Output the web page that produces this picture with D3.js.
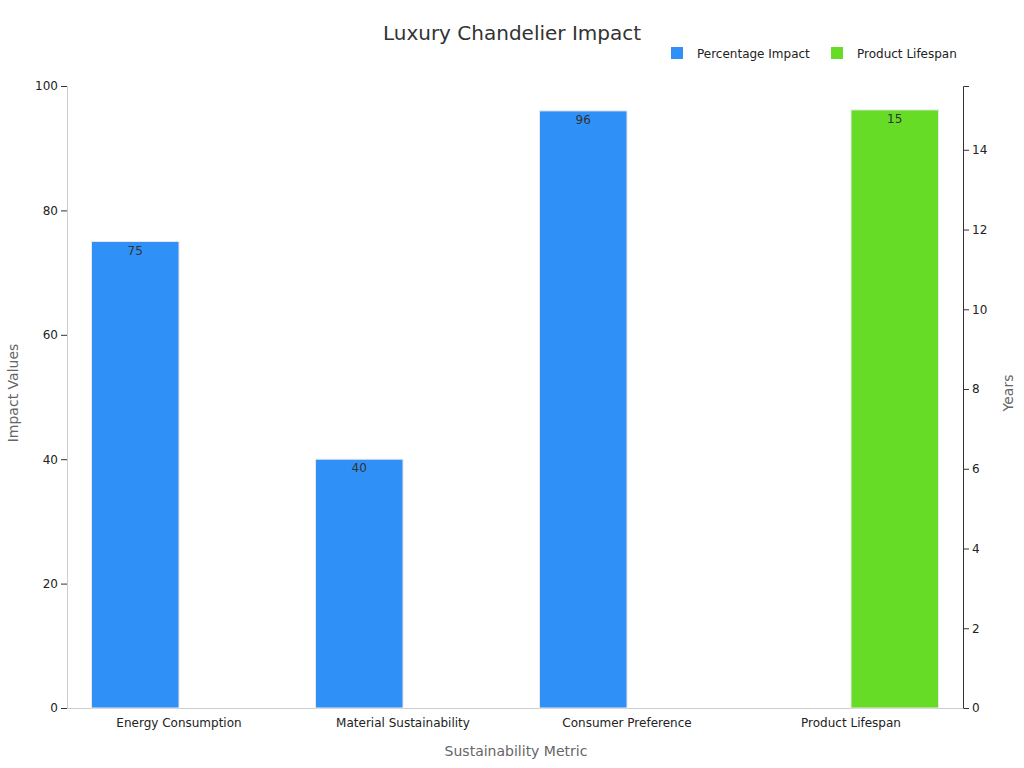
<!DOCTYPE html><html><head><meta charset="utf-8"><script src="https://cdn.jsdelivr.net/npm/d3@7"></script>
<style>body{margin:0;background:#fff;font-family:"DejaVu Sans",sans-serif}</style></head><body><svg width="1024" height="768"></svg>
<script>
const categories=["Energy Consumption","Material Sustainability","Consumer Preference","Product Lifespan"];
const percentageImpact=[75,40,96,null];
const productLifespan=[null,null,null,15];
const svg=d3.select("svg");
const m={l:67,r:963,t:86,b:708};
const x=d3.scaleBand().domain(categories).range([m.l,m.r]);
const yL=d3.scaleLinear().domain([0,100]).range([m.b,m.t]);
const yR=d3.scaleLinear().domain([0,15.6]).range([m.b,m.t]);
const sub=d3.scaleBand().domain(["p","l"]).range([0,x.bandwidth()]).paddingOuter(0.28).paddingInner(0);
const gl=svg.append("g").attr("transform",`translate(${m.l},0)`).call(d3.axisLeft(yL).tickValues([0,20,40,60,80,100]));
const gr=svg.append("g").attr("transform",`translate(${m.r},0)`).call(d3.axisRight(yR).tickValues([0,2,4,6,8,10,12,14]));
const gb=svg.append("g").attr("transform",`translate(0,${m.b})`).call(d3.axisBottom(x).tickSize(0).tickPadding(10));
[gl,gr,gb].forEach(g=>{g.selectAll("text").attr("font-size",12).attr("fill","#222").attr("font-family","DejaVu Sans");g.selectAll("line,path").attr("stroke","#333");});
gb.select("path").attr("stroke","#ccc");gl.select("path").attr("stroke","#ccc");
function bars(vals,key,scale,color){
 categories.forEach((c,i)=>{const v=vals[i];if(v==null)return;
  const bx=x(c)+sub(key),y=scale(v);
  svg.append("rect").attr("x",bx).attr("y",y).attr("width",sub.bandwidth()).attr("height",m.b-y).attr("fill",color).attr("stroke","#e8e8e8").attr("stroke-width",1);
  svg.append("text").attr("x",bx+sub.bandwidth()/2).attr("y",y+13).attr("text-anchor","middle").attr("font-size",12).attr("fill","#333").text(v);
 });}
bars(percentageImpact,"p",yL,"#2f91f7");
bars(productLifespan,"l",yR,"#66dc26");
svg.append("text").attr("x",512).attr("y",40).attr("text-anchor","middle").attr("font-size",20).attr("fill","#333").text("Luxury Chandelier Impact");
svg.append("text").attr("x",516).attr("y",756).attr("text-anchor","middle").attr("font-size",14).attr("fill","#666").text("Sustainability Metric");
svg.append("text").attr("transform","translate(18,393) rotate(-90)").attr("text-anchor","middle").attr("font-size",14).attr("fill","#666").text("Impact Values");
svg.append("text").attr("transform","translate(1013,393) rotate(-90)").attr("text-anchor","middle").attr("font-size",14).attr("fill","#666").text("Years");
[["Percentage Impact","#2f91f7",671],["Product Lifespan","#66dc26",831]].forEach(([t,c,lx])=>{
 svg.append("rect").attr("x",lx).attr("y",47).attr("width",12).attr("height",12).attr("fill",c);
 svg.append("text").attr("x",lx+26).attr("y",58).attr("font-size",12).attr("fill","#222").text(t);});
</script></body></html>
